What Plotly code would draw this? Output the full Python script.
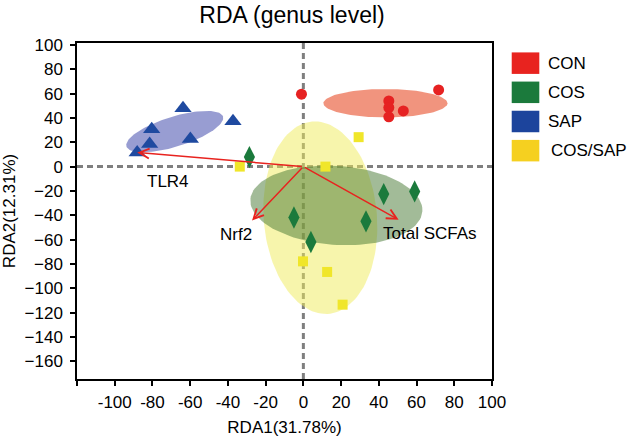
import numpy as np
from plotly import graph_objects as go

FONT = "Liberation Sans, Arial, sans-serif"

# sample scores on RDA1 / RDA2
con_x = [-1.0, 45.3, 45.3, 45.3, 53.0, 71.7]
con_y = [59.5, 54.0, 48.5, 40.9, 45.8, 63.0]
cos_x = [-28.6, -5.0, 4.0, 42.6, 59.0, 33.2]
cos_y = [7.8, -41.8, -62.0, -22.6, -20.4, -45.0]
sap_x = [-63.8, -37.3, -80.4, -59.9, -81.5, -88.1]
sap_y = [48.0, 37.3, 30.8, 22.6, 18.5, 11.6]
cossap_x = [-33.7, 29.3, 11.7, -0.2, 12.6, 20.8]
cossap_y = [0.0, 24.2, 0.0, -77.9, -86.6, -113.5]

# environmental factor arrows
env_names = ["TLR4", "Nrf2", "Total SCFAs"]
env_x = [-88.1, -27.2, 50.5]
env_y = [11.6, -44.3, -43.7]

# group ellipses: centre, half major axis vector, half minor axis vector
ell_cx = [9.0, 17.5, 43.5, -68.2]
ell_cy = [-42.0, -31.9, 52.1, 28.8]
ell_ax = [-4.4, 45.6, 32.9, 25.6]
ell_ay = [79.0, -4.9, 0.0, 12.3]
ell_bx = [29.9, -1.46, 0.0, 2.37]
ell_by = [4.0, -32.4, 11.7, -11.8]
ell_colors = [
    "rgba(240,235,90,0.5)",
    "rgba(70,120,50,0.5)",
    "rgba(230,60,20,0.55)",
    "rgba(40,50,160,0.48)",
]

group_names = ["CON", "COS", "SAP", "COS/SAP"]
legend_colors = ["#e8231f", "#1b7a3c", "#1c449c", "#f5d020"]

x_range = [-120, 100]
y_range = [-174.6, 101.6]

fig = go.Figure()

t = np.linspace(0, 2 * np.pi, 120)
for i in range(len(ell_cx)):
    fig.add_trace(
        go.Scatter(
            x=ell_cx[i] + ell_ax[i] * np.cos(t) + ell_bx[i] * np.sin(t),
            y=ell_cy[i] + ell_ay[i] * np.cos(t) + ell_by[i] * np.sin(t),
            mode="lines",
            line_width=0,
            fill="toself",
            fillcolor=ell_colors[i],
            hoverinfo="skip",
            showlegend=False,
        )
    )

markers = [
    (con_x, con_y, "circle", 11, "#e62222"),
    (cos_x, cos_y, "diamond-tall", 16, "#1b7a3c"),
    (sap_x, sap_y, "triangle-up", 15, "#1f4aa0"),
    (cossap_x, cossap_y, "square", 10, "#f0e62a"),
]
for (xs, ys, symbol, size, color), name in zip(markers, group_names):
    fig.add_trace(
        go.Scatter(
            x=xs,
            y=ys,
            name=name,
            mode="markers",
            marker=dict(symbol=symbol, size=size, color=color, line_width=0),
            showlegend=False,
        )
    )

# dashed origin lines
for kw in (
    dict(x0=x_range[0], x1=x_range[1], y0=0, y1=0),
    dict(x0=0, x1=0, y0=y_range[0], y1=y_range[1]),
):
    fig.add_shape(
        type="line",
        xref="x",
        yref="y",
        layer="below",
        line=dict(color="#7f7f7f", width=3, dash="6px,4px"),
        **kw,
    )

label_shift = [(31, -29), (-16, -14), (31, -14)]
for name, ex, ey, (dx, dy) in zip(env_names, env_x, env_y, label_shift):
    fig.add_annotation(
        x=ex,
        y=ey,
        ax=0,
        ay=0,
        xref="x",
        yref="y",
        axref="x",
        ayref="y",
        text="",
        showarrow=True,
        arrowhead=5,
        arrowsize=1.3,
        arrowwidth=1.5,
        arrowcolor="#e8231f",
        standoff=0,
    )
    fig.add_annotation(
        x=ex,
        y=ey,
        xref="x",
        yref="y",
        text=name,
        showarrow=False,
        xshift=dx,
        yshift=dy,
        font=dict(family=FONT, size=17, color="black"),
    )

# legend drawn as coloured blocks
for i, (name, color) in enumerate(zip(group_names, legend_colors)):
    yc = 0.94 - i * 0.0868
    fig.add_shape(
        type="rect",
        xref="paper",
        yref="paper",
        x0=1.0475,
        x1=1.114,
        y0=yc - 0.032,
        y1=yc + 0.032,
        fillcolor=color,
        line_width=0,
    )
    fig.add_annotation(
        x=1.129 if i < 3 else 1.138,
        y=yc,
        xref="paper",
        yref="paper",
        xanchor="left",
        yanchor="middle",
        text=name,
        showarrow=False,
        font=dict(family=FONT, size=17, color="black"),
    )

axis_style = dict(
    showline=True,
    linecolor="black",
    linewidth=1.5,
    mirror=True,
    showgrid=False,
    zeroline=False,
    ticks="outside",
    ticklen=5,
    tickwidth=1.5,
    tickcolor="black",
    tickfont=dict(family=FONT, size=17, color="black"),
)

fig.update_xaxes(
    range=x_range,
    tickvals=list(range(-120, 101, 20)),
    ticktext=[""] + [str(v) for v in range(-100, 101, 20)],
    ticklabelstandoff=2,
    title=dict(text="RDA1(31.78%)", font=dict(family=FONT, size=17, color="black"), standoff=10),
    **axis_style,
)
fig.update_yaxes(
    range=y_range,
    tickvals=list(range(-160, 101, 20)),
    ticklabelstandoff=4,
    title=dict(text="RDA2(12.31%)", font=dict(family=FONT, size=17, color="black"), standoff=8),
    **axis_style,
)

fig.update_layout(
    width=628,
    height=445,
    margin=dict(l=77, r=136, t=43, b=66, autoexpand=False),
    paper_bgcolor="white",
    plot_bgcolor="white",
    showlegend=False,
    title=dict(
        text="RDA (genus level)",
        x=0.465,
        xanchor="center",
        y=0.966,
        yanchor="middle",
        font=dict(family=FONT, size=23, color="black"),
    ),
)

fig.write_html(
    "out.html",
    config={"displayModeBar": False},
    post_script="document.body.style.margin = '0px';",
)
